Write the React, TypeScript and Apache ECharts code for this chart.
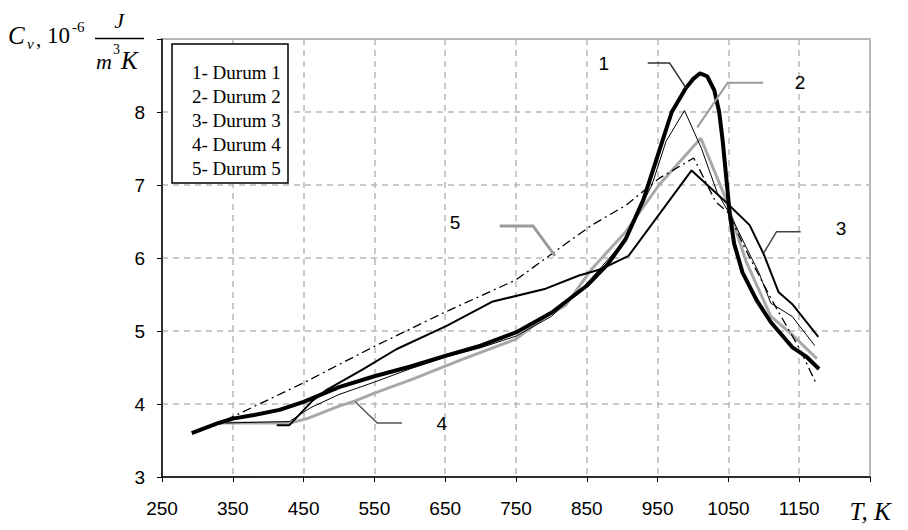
import React, { useEffect, useRef } from "react";
import * as echarts from "echarts";

// ---- Data (T in K, Cv in 10^-6 J/(m^3 K)) ----
const seriesNames = ["Durum 1", "Durum 2", "Durum 3", "Durum 4", "Durum 5"];

const durum1: number[][] = [
  [292, 3.6], [330, 3.74], [350, 3.8], [380, 3.85], [416, 3.92], [450, 4.03], [500, 4.23],
  [550, 4.38], [600, 4.51], [650, 4.66], [700, 4.8], [750, 4.98], [800, 5.25], [850, 5.62],
  [880, 5.92], [905, 6.26], [930, 6.8], [950, 7.4], [970, 8.0], [990, 8.33], [1000, 8.45],
  [1010, 8.53], [1020, 8.49], [1030, 8.3], [1037, 8.0], [1042, 7.6], [1047, 7.1], [1052, 6.6],
  [1058, 6.2], [1070, 5.8], [1090, 5.42], [1110, 5.12], [1140, 4.78], [1160, 4.65], [1178, 4.48],
];

const durum2: number[][] = [
  [340, 3.74], [430, 3.76], [460, 3.95], [500, 4.13], [550, 4.3], [600, 4.48], [650, 4.64],
  [700, 4.77], [750, 4.93], [800, 5.2], [850, 5.65], [900, 6.2], [942, 7.0], [962, 7.6],
  [988, 8.02], [1012, 7.5], [1034, 6.9], [1055, 6.55], [1075, 6.15], [1093, 5.8], [1110, 5.38],
  [1140, 5.2], [1172, 4.8],
];

const durum3: number[][] = [
  [412, 3.71], [430, 3.71], [463, 4.05], [482, 4.19], [533, 4.47], [581, 4.75], [652, 5.07],
  [716, 5.4], [792, 5.58], [839, 5.76], [871, 5.85], [909, 6.03], [998, 7.2], [1046, 6.77],
  [1080, 6.45], [1100, 6.05], [1121, 5.53], [1140, 5.37], [1177, 4.92],
];

const durum4: number[][] = [
  [332, 3.74], [430, 3.74], [455, 3.8], [500, 3.97], [522, 4.04], [550, 4.15], [604, 4.34],
  [674, 4.61], [750, 4.89], [792, 5.2], [820, 5.35], [857, 5.85], [905, 6.36], [952, 7.0],
  [1011, 7.64], [1046, 6.82], [1075, 5.95], [1110, 5.2], [1140, 4.95], [1175, 4.62],
];

const durum5: number[][] = [
  [340, 3.78], [450, 4.29], [550, 4.79], [650, 5.26], [750, 5.7], [811, 6.13], [857, 6.45],
  [905, 6.72], [952, 7.09], [1001, 7.37], [1032, 6.77], [1050, 6.62], [1074, 6.12],
  [1111, 5.43], [1135, 5.02], [1151, 4.75], [1173, 4.3],
];

const xTickLabels: Record<number, string> = {
  250: "250", 350: "350", 450: "450", 550: "550", 650: "650", 750: "750",
  850: "850", 950: "950", 1050: "1050", 1150: "1150", 1250: "T, K",
};

// Callout annotations (data coordinates)
const calloutTexts = ["1", "2", "3", "4", "5"];
const calloutAnchors: number[][] = [
  [874, 8.66], [1151, 8.4], [1209, 6.41], [645, 3.73], [664, 6.49],
];
const calloutLeaders: number[][][] = [
  [[936, 8.67], [967, 8.67], [990, 8.33]],
  [[1099, 8.4], [1049, 8.4], [1006, 7.79]],
  [[1152, 6.36], [1118, 6.36], [1100, 6.07]],
  [[589, 3.74], [554, 3.74], [523, 4.03]],
  [[727, 6.44], [774, 6.44], [805, 6.03]],
];
const leaderColors = ["#333333", "#9a9a9a", "#444444", "#555555", "#9a9a9a"];
const leaderWidths = [1.5, 2, 1.5, 1.5, 3];

const legendLines = ["1- Durum 1", "2- Durum 2", "3- Durum 3", "4- Durum 4", "5- Durum 5"];

export default function App() {
  const ref = useRef<HTMLDivElement>(null);

  useEffect(() => {
    if (!ref.current) return;
    const chart = echarts.init(ref.current, undefined, { renderer: "svg" });

    const dashGrid = { show: true, lineStyle: { color: "#b8b8b8", type: [6, 5] as any, width: 1.5 } };

    chart.setOption({
      animation: false,
      backgroundColor: "#ffffff",
      grid: {
        left: 162, right: 38, top: 39, bottom: 53,
        show: true, borderColor: "#a0a0a0", borderWidth: 1.5, backgroundColor: "transparent",
      },
      xAxis: {
        type: "value", min: 250, max: 1250, interval: 100,
        axisLine: { show: true, lineStyle: { color: "#000", width: 1.5 } },
        axisTick: { show: true, length: 5, lineStyle: { color: "#000" } },
        splitLine: dashGrid,
        axisLabel: {
          show: true, showMaxLabel: true, showMinLabel: true,
          color: "#000", fontFamily: "Liberation Sans", fontSize: 19, margin: 22,
          formatter: (v: number) => (v === 1250 ? "{t|" + xTickLabels[v] + "}" : (xTickLabels[v] ?? String(v))),
          rich: {
            t: { fontFamily: "Liberation Serif", fontStyle: "italic", fontSize: 25, color: "#000" },
          },
        },
      },
      yAxis: {
        type: "value", min: 3, max: 9, interval: 1,
        axisLine: { show: true, lineStyle: { color: "#000", width: 1.5 } },
        axisTick: { show: true, length: 5, lineStyle: { color: "#000" } },
        splitLine: dashGrid,
        axisLabel: {
          color: "#000", fontFamily: "Liberation Sans", fontSize: 19, margin: 17,
          formatter: (v: number) => (v === 9 ? "" : String(v)),
        },
      },
      series: [
        {
          name: seriesNames[0], type: "line", data: durum1, showSymbol: false, symbol: "none",
          lineStyle: { color: "#000", width: 4 }, z: 5,
        },
        {
          name: seriesNames[3], type: "line", data: durum4, showSymbol: false, symbol: "none",
          lineStyle: { color: "#a8a8a8", width: 3 }, z: 4,
        },
        {
          name: seriesNames[2], type: "line", data: durum3, showSymbol: false, symbol: "none",
          lineStyle: { color: "#000", width: 2 }, z: 6,
        },
        {
          name: seriesNames[1], type: "line", data: durum2, showSymbol: false, symbol: "none",
          lineStyle: { color: "#000", width: 1 }, z: 6,
        },
        {
          name: seriesNames[4], type: "line", data: durum5, showSymbol: false, symbol: "none",
          lineStyle: { color: "#000", width: 1.3, type: [9, 4, 2, 4] as any }, z: 6,
        },
      ],
    });

    const toPx = (p: number[]) => chart.convertToPixel({ gridIndex: 0 }, p) as number[];

    const graphics: any[] = [];

    const addText = (
      text: string, x: number, y: number, size: number, family: string,
      italic = false, align = "left",
    ) =>
      graphics.push({
        type: "text", x, y,
        style: {
          text, fill: "#000", fontSize: size, fontFamily: family,
          fontStyle: italic ? "italic" : "normal",
          align, verticalAlign: "middle",
        },
        z: 21,
      });

    // Callouts
    calloutLeaders.forEach((pts, i) => {
      graphics.push({
        type: "polyline",
        shape: { points: pts.map(toPx) },
        style: { stroke: leaderColors[i], lineWidth: leaderWidths[i], fill: null },
        z: 10,
      });
      const a = toPx(calloutAnchors[i]);
      addText(calloutTexts[i], a[0], a[1], 19, "Liberation Sans", false, "center");
    });

    // Legend box
    graphics.push({
      type: "rect",
      shape: { x: 172, y: 44, width: 116, height: 139 },
      style: { fill: "#fff", stroke: "#000", lineWidth: 1.5 },
      z: 20,
    });
    legendLines.forEach((t, i) => {
      addText(t, 192, 72 + i * 24, 19, "Liberation Serif");
    });

    // Y-axis title: Cv, 10^-6 J/(m^3 K)
    const serif = "Liberation Serif";
    addText("C", 8, 35, 25, serif, true);
    addText("v", 27, 44, 15, serif, true);
    addText(",", 36, 39, 21, serif);
    addText("10", 47, 35, 23, serif);
    addText("-6", 72, 27, 15, serif);
    addText("J", 119, 20, 22, serif, true, "center");
    graphics.push({
      type: "line",
      shape: { x1: 95, y1: 38.5, x2: 144, y2: 38.5 },
      style: { stroke: "#000", lineWidth: 1.5 },
      z: 21,
    });
    addText("m", 96, 61, 22, serif, true);
    addText("3", 113, 49, 14, serif);
    addText("K", 121, 60, 25, serif, true);

    chart.setOption({ graphic: graphics });

    return () => chart.dispose();
  }, []);

  return (
    <div
      ref={ref}
      style={{ position: "fixed", left: 0, top: 0, width: 908, height: 530, background: "#fff" }}
    />
  );
}
